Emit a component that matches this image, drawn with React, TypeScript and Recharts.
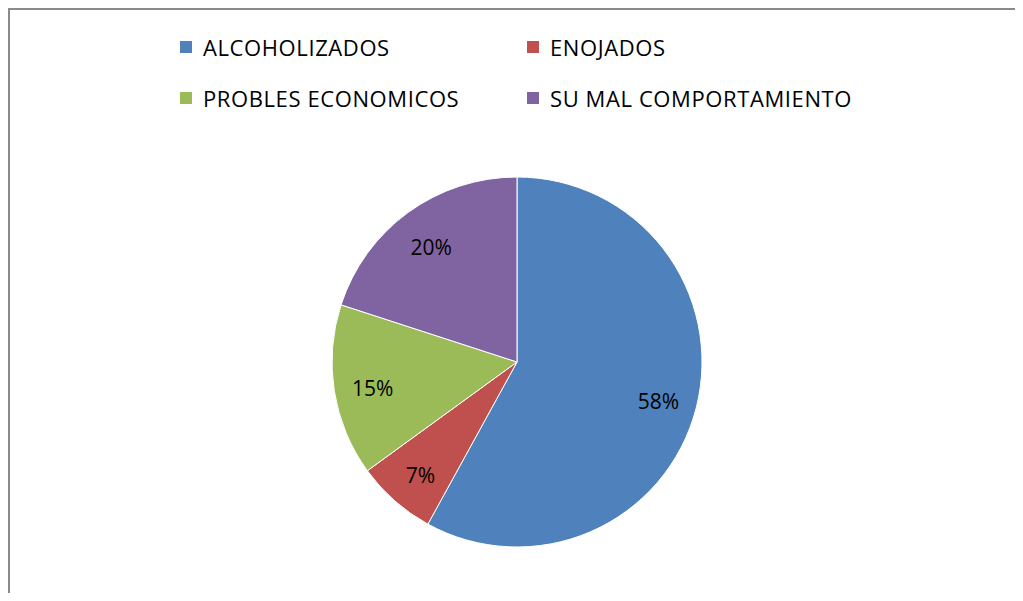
import { PieChart, Pie, Cell } from 'recharts'

const causes = ['ALCOHOLIZADOS', 'ENOJADOS', 'PROBLES ECONOMICOS', 'SU MAL COMPORTAMIENTO']
const shares = [58, 7, 15, 20]
const colors = ['#4F81BD', '#C0504D', '#9BBB59', '#8064A2']

const data = causes.map((name, i) => ({ name, value: shares[i] }))

const FONT = '"Open Sans", sans-serif'

// legend cells, two columns x two rows like the original
const legendPos = [
  { left: 170, top: 36 },
  { left: 517, top: 36 },
  { left: 170, top: 87 },
  { left: 517, top: 87 },
]

function renderLabel(props: any) {
  const { cx, cy, midAngle, outerRadius, percent } = props
  const RAD = Math.PI / 180
  const r = outerRadius * 0.79
  const x = cx + r * Math.cos(-midAngle * RAD)
  const y = cy + r * Math.sin(-midAngle * RAD) + 3
  return (
    <text x={x} y={y} fill="#000" textAnchor="middle" dominantBaseline="central" fontFamily={FONT} fontSize={21}>
      {`${Math.round(percent * 100)}%`}
    </text>
  )
}

export default function App() {
  return (
    <div
      style={{
        position: 'relative',
        width: 1007,
        height: 585,
        borderLeft: '2px solid #8a8a8a',
        borderTop: '2px solid #8a8a8a',
        boxSizing: 'border-box',
        background: '#fff',
      }}
    >
      <PieChart width={1005} height={583}>
        <Pie
          data={data}
          dataKey="value"
          nameKey="name"
          cx={502}
          cy={347}
          outerRadius={185}
          startAngle={90}
          endAngle={-270}
          stroke="#fff"
          strokeWidth={1}
          labelLine={false}
          label={renderLabel}
          isAnimationActive={false}
        >
          {data.map((_, i) => (
            <Cell key={`cell-${i}`} fill={colors[i]} />
          ))}
        </Pie>
      </PieChart>
      {causes.map((name, i) => (
        <div
          key={name}
          style={{
            position: 'absolute',
            left: legendPos[i].left,
            top: legendPos[i].top - 10,
            height: 22,
            display: 'flex',
            alignItems: 'center',
            fontFamily: FONT,
            fontSize: 22,
            letterSpacing: 0.6,
            color: '#000',
            whiteSpace: 'nowrap',
          }}
        >
          <span style={{ width: 12, height: 12, background: colors[i], marginRight: 11, display: 'inline-block' }} />
          <span>{name}</span>
        </div>
      ))}
    </div>
  )
}
